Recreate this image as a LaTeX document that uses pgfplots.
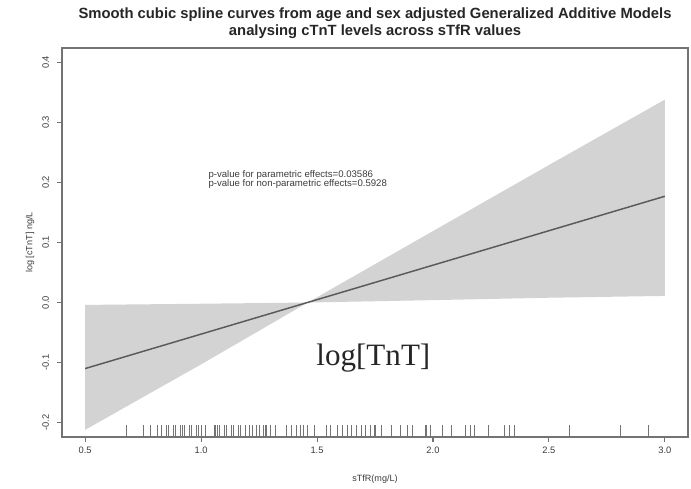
\documentclass[border=0pt]{standalone}
\usepackage{fontspec}
\setmainfont{Liberation Sans}
\newfontfamily\timesfont{Liberation Serif}
\usepackage{pgfplots}
\pgfplotsset{compat=1.18}
\usepgfplotslibrary{fillbetween}
\definecolor{bandgray}{RGB}{211,211,211}
\definecolor{linegray}{RGB}{90,90,90}
\definecolor{axgray}{RGB}{115,115,115}
\definecolor{txtgray}{RGB}{60,60,60}
\begin{document}
\begin{tikzpicture}
\begin{axis}[
  scale only axis, width=469.5pt, height=291.75pt,
  xmin=0.4, xmax=3.1, ymin=-0.224, ymax=0.424,
  axis line style={axgray, line width=0.9pt},
  tick style={axgray, line width=0.8pt},
  tick align=outside, major tick length=3.75pt,
  xtick={0.5,1.0,1.5,2.0,2.5,3.0},
  xticklabels={0.5,1.0,1.5,2.0,2.5,3.0},
  ytick={-0.2,-0.1,0.0,0.1,0.2,0.3,0.4},
  yticklabels={-0.2,-0.1,0.0,0.1,0.2,0.3,0.4},
  xtick pos=bottom, ytick pos=left,
  ticklabel style={font=\fontsize{7}{8}\selectfont, text=txtgray},
  yticklabel style={rotate=90, anchor=south, yshift=2.5pt},
  clip=false,
]
\addplot[name path=upper, draw=none, forget plot] coordinates {(0.5,-0.004) (1.0,-0.002) (1.46,0.0) (2.0,0.119) (2.5,0.229) (3.0,0.338)};
\addplot[name path=lower, draw=none, forget plot] coordinates {(0.5,-0.212) (1.0,-0.103) (1.46,0.0) (2.0,0.004) (2.5,0.008) (3.0,0.011)};
\addplot[bandgray, draw=none] fill between[of=upper and lower];
\addplot[linegray, line width=1.1pt] coordinates {(0.5,-0.110) (1.0,-0.0526) (1.5,0.0048) (2.0,0.0622) (2.5,0.1196) (3.0,0.177)};
\addplot[axgray, line width=0.8pt, quiver={u=0, v=0.0194}] coordinates {
(0.68,-0.224) (0.75,-0.224) (0.78,-0.224) (0.81,-0.224) (0.83,-0.224) (0.85,-0.224) (0.86,-0.224) (0.88,-0.224) (0.89,-0.224) (0.91,-0.224) (0.92,-0.224) (0.93,-0.224) (0.95,-0.224) (0.96,-0.224) (0.98,-0.224) (0.99,-0.224) (1.00,-0.224) (1.02,-0.224)
(1.06,-0.224) (1.07,-0.224) (1.08,-0.224) (1.10,-0.224) (1.11,-0.224) (1.13,-0.224) (1.14,-0.224) (1.16,-0.224) (1.17,-0.224) (1.19,-0.224) (1.21,-0.224) (1.22,-0.224) (1.24,-0.224) (1.25,-0.224) (1.27,-0.224) (1.28,-0.224) (1.30,-0.224) (1.32,-0.224)
(1.37,-0.224) (1.39,-0.224) (1.41,-0.224) (1.43,-0.224) (1.44,-0.224) (1.46,-0.224) (1.49,-0.224)
(1.54,-0.224) (1.56,-0.224) (1.59,-0.224) (1.61,-0.224) (1.63,-0.224) (1.65,-0.224) (1.67,-0.224) (1.69,-0.224) (1.71,-0.224) (1.73,-0.224) (1.75,-0.224)
(1.78,-0.224) (1.82,-0.224) (1.86,-0.224) (1.89,-0.224) (1.91,-0.224) (1.97,-0.224) (1.99,-0.224)
(2.04,-0.224) (2.08,-0.224) (2.14,-0.224) (2.16,-0.224) (2.18,-0.224) (2.24,-0.224) (2.31,-0.224) (2.33,-0.224) (2.35,-0.224)
(2.59,-0.224) (2.81,-0.224) (2.93,-0.224)};
\node[anchor=west, font=\fontsize{7.2}{8}\selectfont, text=txtgray, inner sep=0pt] at (axis cs:1.031,0.213) {p-value for parametric effects=0.03586};
\node[anchor=west, font=\fontsize{7.2}{8}\selectfont, text=txtgray, inner sep=0pt] at (axis cs:1.031,0.197) {p-value for non-parametric effects=0.5928};
\node[font=\timesfont\fontsize{23.3}{26}\selectfont, text=black!85] at (axis cs:1.743,-0.093) {log[TnT]};
\end{axis}
\node[font=\fontsize{6.8}{8}\selectfont, text=txtgray] at ([yshift=-31.5pt]current axis.south) {sTfR(mg/L)};
\node[rotate=90, font=\fontsize{6.8}{8}\selectfont, text=txtgray] at ([xshift=-24pt]current axis.west) {log [cTnT] ng/L};
\node[font=\bfseries\fontsize{11.1}{13}\selectfont, text=black!85] at ([yshift=24.75pt]current axis.north) {Smooth cubic spline curves from age and sex adjusted Generalized Additive Models};
\node[font=\bfseries\fontsize{11.1}{13}\selectfont, text=black!85] at ([yshift=12pt]current axis.north) {analysing cTnT levels across sTfR values};
\pgfresetboundingbox
\path[use as bounding box] ([xshift=-46.5pt,yshift=-38.25pt]current axis.south west) rectangle ([xshift=2.25pt,yshift=36pt]current axis.north east);
\end{tikzpicture}
\end{document}
